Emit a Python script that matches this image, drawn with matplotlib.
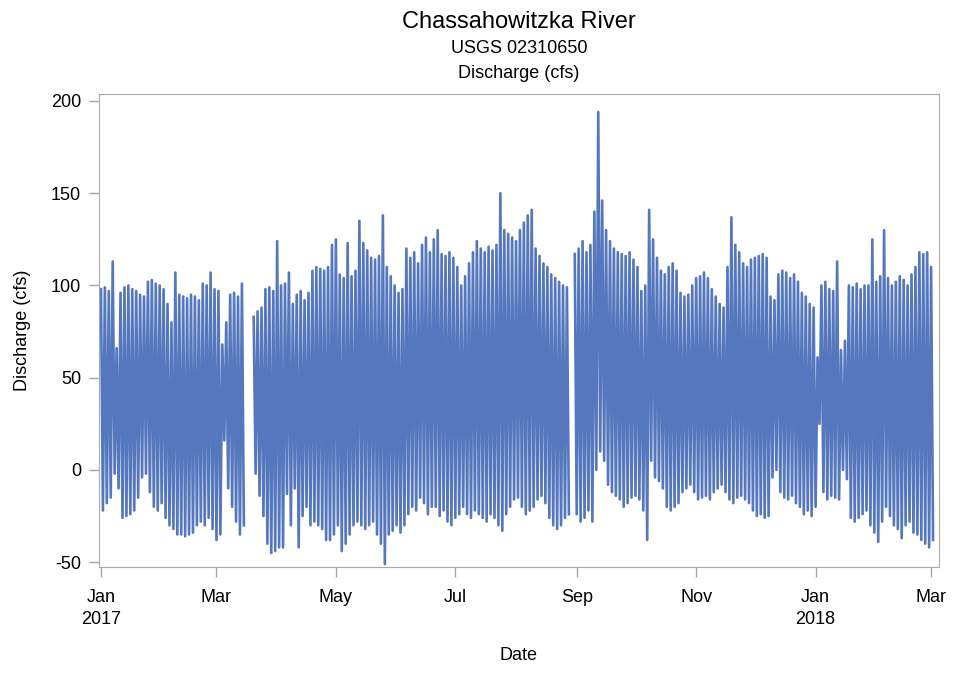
import numpy as np
import pandas as pd
import matplotlib
matplotlib.use("Agg")
import matplotlib.pyplot as plt

plt.rcParams["font.family"] = ["Liberation Sans", "DejaVu Sans"]
plt.rcParams["axes.unicode_minus"] = False

nan = np.nan

# tidal high / low discharge (cfs), one pair every 2 days from 2017-01-01
highs = [
    98, 99, 97, 113, 66, 96, 99, 100, 98, 97,
    95, 94, 102, 103, 101, 100, 98, 90, 80, 107,
    95, 94, 93, 95, 94, 92, 101, 100, 107, 98,
    97, 68, 80, 95, 96, 94, 101, nan, nan, 83,
    86, 88, 98, 99, 97, 124, 100, 101, 107, 90,
    95, 97, 92, 96, 108, 110, 109, 108, 110, 122,
    125, 106, 104, 123, 105, 108, 135, 123, 119, 115,
    114, 116, 138, 110, 105, 100, 96, 98, 120, 115,
    118, 112, 122, 126, 118, 125, 130, 117, 116, 118,
    115, 110, 100, 105, 112, 118, 124, 120, 118, 121,
    119, 122, 150, 130, 128, 126, 124, 130, 134, 138,
    141, 120, 116, 112, 110, 106, 104, 102, 100, 99,
    nan, 117, 120, 124, 118, 122, 140, 194, 146, 130,
    124, 120, 118, 117, 116, 118, 114, 110, 97, 100,
    141, 125, 115, 108, 106, 110, 112, 108, 96, 94,
    95, 100, 104, 105, 107, 104, 98, 94, 90, 88,
    110, 137, 122, 118, 112, 110, 114, 115, 116, 117,
    115, 94, 92, 106, 108, 107, 104, 106, 102, 96,
    94, 90, 88, 61, 100, 102, 98, 97, 113, 65,
    70, 100, 99, 101, 98, 100, 100, 125, 102, 105,
    130, 104, 100, 102, 105, 103, 100, 106, 110, 118,
    117, 118, 110,
]
lows = [
    -22, -18, -15, -2, -10, -26, -25, -24, -22, -15,
    -4, -2, -12, -20, -22, -18, -26, -30, -32, -35,
    -35, -36, -35, -34, -30, -28, -30, -26, -32, -38,
    -35, 16, -10, -20, -28, -35, -30, nan, nan, -2,
    -14, -25, -40, -45, -44, -42, -42, -13, -30, -10,
    -42, -25, -20, -30, -28, -30, -32, -38, -38, -35,
    -30, -44, -40, -35, -30, -28, -30, -32, -30, -28,
    -35, -40, -51, -35, -33, -30, -34, -30, -24, -20,
    -22, -15, -18, -24, -20, -20, -25, -22, -28, -30,
    -26, -24, -20, -24, -26, -22, -24, -26, -28, -24,
    -26, -30, -33, -24, -20, -16, -15, -20, -24, -22,
    -20, -16, -14, -18, -26, -30, -32, -30, -26, -24,
    nan, -24, -28, -26, -22, -28, 0, 10, 5, -8,
    -12, -14, -16, -20, -18, -15, -14, -16, -22, -38,
    5, -4, -6, -10, -20, -22, -20, -18, -12, -10,
    -8, -12, -16, -15, -14, -16, -12, -10, -8, -12,
    -16, -18, -15, -14, -16, -18, -22, -25, -24, -26,
    -25, -4, 0, -12, -15, -16, -14, -18, -20, -24,
    -22, -25, -20, 25, -12, -16, -14, -15, -16, 0,
    -5, -26, -28, -26, -24, -22, -30, -34, -39, -28,
    -20, -25, -30, -32, -37, -30, -28, -34, -35, -38,
    -40, -42, -38,
]
start = pd.Timestamp("2017-01-01")
tick_dates = ["2017-01-01", "2017-03-01", "2017-05-01", "2017-07-01",
              "2017-09-01", "2017-11-01", "2018-01-01", "2018-03-01"]
tick_labels = ["Jan\n2017", "Mar", "May", "Jul", "Sep", "Nov", "Jan\n2018", "Mar"]

# interleave: high on day d, low on day d+1
days = np.arange(len(highs)) * 2.0
t = np.empty(2 * len(days))
v = np.empty(2 * len(days))
t[0::2] = days
t[1::2] = days + 1
v[0::2] = highs
v[1::2] = lows
dates = start + pd.to_timedelta(t, unit="D")

fig = plt.figure(figsize=(9.63, 6.76), dpi=100)
ax = fig.add_axes([0.1028, 0.161, 0.8722, 0.700])

ax.plot(dates, v, color="#5477BE", lw=1.9, solid_joinstyle="round")

ax.set_xlim(pd.Timestamp("2016-12-31"), pd.Timestamp("2018-03-05"))
ax.set_ylim(-52.7, 203.8)
ax.set_yticks([-50, 0, 50, 100, 150, 200])
ax.set_xticks(pd.to_datetime(tick_dates))
ax.set_xticklabels(tick_labels, linespacing=1.35)

gray = "#A8A8A8"
for s in ax.spines.values():
    s.set_color(gray)
ax.tick_params(axis="both", colors=gray, labelcolor="black", labelsize=13,
               length=7, width=1)
ax.tick_params(axis="x", pad=9)
ax.tick_params(axis="y", pad=6)

ax.set_xlabel("Date", fontsize=13, labelpad=14)
ax.set_ylabel("Discharge (cfs)", fontsize=13, labelpad=14)

cx = 0.539
fig.text(cx, 1 - 28 / 676, "Chassahowitzka River", ha="center", va="baseline", fontsize=17)
fig.text(cx, 1 - 53 / 676, "USGS 02310650", ha="center", va="baseline", fontsize=13)
fig.text(cx, 1 - 78 / 676, "Discharge (cfs)", ha="center", va="baseline", fontsize=13)

fig.savefig("out.png", dpi=100)
